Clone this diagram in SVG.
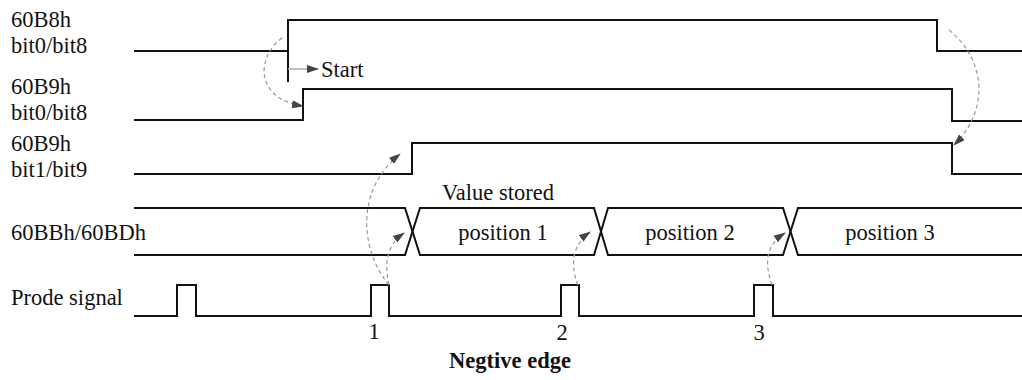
<svg xmlns="http://www.w3.org/2000/svg" width="1022" height="380" viewBox="0 0 1022 380">
<style>
.sig{fill:none;stroke:#111;stroke-width:2}
.lbl{font-family:'Liberation Serif', 'Times New Roman', Times, serif;font-size:22.5px;fill:#111}
.dash{fill:none;stroke:#999;stroke-width:1.2;stroke-dasharray:4 3}
</style>
<defs>
<marker id="ah" markerWidth="12" markerHeight="8" refX="11" refY="4" orient="auto" markerUnits="userSpaceOnUse">
<path d="M0,0 L12,4 L0,8 Z" fill="#444"/>
</marker>
</defs>
<rect width="1022" height="380" fill="#fff"/>
<g id="sig-60B8h">
<text class="lbl" x="11" y="27">60B8h</text>
<text class="lbl" x="11" y="53">bit0/bit8</text>
<path class="sig" d="M134,51 H288 V20 H937 V51 H1022"/>
<path class="sig" d="M288,51 V82"/>
<text class="lbl" x="321" y="77">Start</text>
</g>
<g id="sig-60B9h-0">
<text class="lbl" x="11" y="94">60B9h</text>
<text class="lbl" x="11" y="120">bit0/bit8</text>
<path class="sig" d="M134,120 H303 V89 H952 V121 H1022"/>
</g>
<g id="sig-60B9h-1">
<text class="lbl" x="11" y="151">60B9h</text>
<text class="lbl" x="11" y="177">bit1/bit9</text>
<path class="sig" d="M134,174 H412 V143 H952 V174 H1022"/>
</g>
<g id="sig-bus">
<text class="lbl" x="11" y="240">60BBh/60BDh</text>
<path class="sig" d="M134,208 H405 L420,255 H594 L608,208 H783 L798,255 H1022"/>
<path class="sig" d="M134,255 H405 L420,208 H594 L608,255 H783 L798,208 H1022"/>
<text class="lbl" x="498" y="200" text-anchor="middle">Value stored</text>
<text class="lbl" x="503" y="240" text-anchor="middle">position 1</text>
<text class="lbl" x="690" y="240" text-anchor="middle">position 2</text>
<text class="lbl" x="890" y="240" text-anchor="middle">position 3</text>
</g>
<g id="sig-probe">
<text class="lbl" x="11" y="305">Prode signal</text>
<path class="sig" d="M134,316 H177 V285 H196 V316 H371 V285 H389 V316 H561 V285 H579 V316 H754 V285 H773 V316 H1022"/>
<text class="lbl" x="374" y="339" text-anchor="middle">1</text>
<text class="lbl" x="562" y="340" text-anchor="middle">2</text>
<text class="lbl" x="759" y="340" text-anchor="middle">3</text>
<text class="lbl" x="510" y="368" text-anchor="middle" font-weight="bold">Negtive edge</text>
</g>
<g id="connectors">
<path d="M288,69 H318" fill="none" stroke="#aaa" stroke-width="1.5" marker-end="url(#ah)"/>
<path class="dash" d="M282,38 C258,55 252,98 303,106" marker-end="url(#ah)"/>
<path class="dash" d="M949,30 C988,62 988,112 954,145" marker-end="url(#ah)"/>
<path class="dash" d="M389,285 C360,250 355,190 400,154" marker-end="url(#ah)"/>
<path class="dash" d="M389,285 C384,262 387,245 404,233" marker-end="url(#ah)"/>
<path class="dash" d="M578,285 C570,265 572,245 590,232" marker-end="url(#ah)"/>
<path class="dash" d="M772,285 C764,262 766,245 785,233" marker-end="url(#ah)"/>
</g>
</svg>
